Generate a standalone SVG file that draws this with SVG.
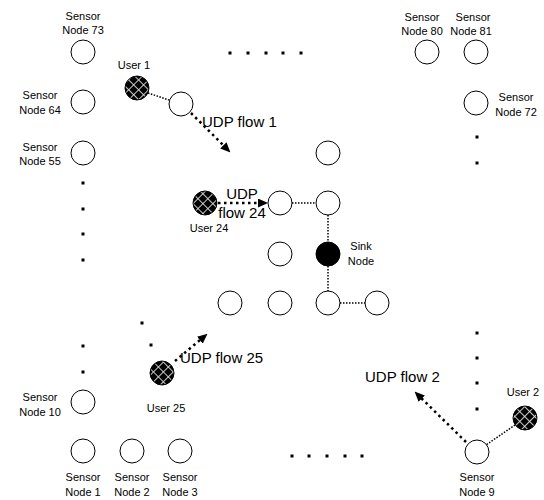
<svg xmlns="http://www.w3.org/2000/svg" width="544" height="500" viewBox="0 0 544 500">
<defs>
<pattern id="mesh" patternUnits="userSpaceOnUse" width="7" height="7" patternTransform="rotate(45)">
<rect width="7" height="7" fill="#000"/>
<path d="M0 0.5H7M0.5 0V7" stroke="#e0e0e0" stroke-width="0.9"/>
</pattern>
<marker id="ah2" markerWidth="10" markerHeight="9" refX="8" refY="4.5" orient="auto" markerUnits="userSpaceOnUse">
<path d="M0 0L10 4.5L0 9Z" fill="#000"/>
</marker>
</defs>
<style>
.n{fill:#fff;stroke:#000;stroke-width:1}
.u{fill:url(#mesh);stroke:#000;stroke-width:1}
.s{fill:#000;stroke:#000}
.t{font-family:"Liberation Sans",Arial,sans-serif;font-size:11px;fill:#000;text-anchor:middle}
.f{font-family:"Liberation Sans",Arial,sans-serif;font-size:15px;fill:#000}
.thin{stroke:#000;stroke-width:1.5;stroke-dasharray:1.5 1.5;fill:none}
.flow{stroke:#000;stroke-width:2.5;stroke-dasharray:2.5 3.5;fill:none}
.d{fill:#000}
</style>
<g id="connectors">
<line class="thin" x1="148" y1="93" x2="169" y2="100"/>
<line class="thin" x1="292" y1="203" x2="316" y2="203"/>
<line class="thin" x1="328" y1="215" x2="328" y2="242"/>
<line class="thin" x1="328" y1="266" x2="328" y2="291"/>
<line class="thin" x1="340" y1="303" x2="365" y2="303"/>
<line class="thin" x1="515" y1="425" x2="486" y2="445"/>
<line class="flow" x1="191" y1="113" x2="229" y2="151" marker-end="url(#ah2)"/>
<line class="flow" x1="218" y1="203" x2="266" y2="203" marker-end="url(#ah2)"/>
<line class="flow" x1="175" y1="361" x2="206" y2="335" marker-end="url(#ah2)"/>
<line class="flow" x1="466" y1="442" x2="416" y2="393" marker-end="url(#ah2)"/>
</g>
<g id="dots">
<rect class="d" x="228.5" y="51.5" width="3" height="3"/>
<rect class="d" x="246.5" y="51.5" width="3" height="3"/>
<rect class="d" x="264.5" y="51.5" width="3" height="3"/>
<rect class="d" x="281.5" y="51.5" width="3" height="3"/>
<rect class="d" x="299.5" y="51.5" width="3" height="3"/>
<rect class="d" x="81.5" y="181.5" width="3" height="3"/>
<rect class="d" x="81.5" y="207.5" width="3" height="3"/>
<rect class="d" x="81.5" y="232.5" width="3" height="3"/>
<rect class="d" x="81.5" y="258.5" width="3" height="3"/>
<rect class="d" x="81.5" y="344.5" width="3" height="3"/>
<rect class="d" x="81.5" y="370.5" width="3" height="3"/>
<rect class="d" x="140.5" y="321.5" width="3" height="3"/>
<rect class="d" x="149.5" y="343.5" width="3" height="3"/>
<rect class="d" x="475.5" y="135.5" width="3" height="3"/>
<rect class="d" x="475.5" y="161.5" width="3" height="3"/>
<rect class="d" x="475.5" y="331.5" width="3" height="3"/>
<rect class="d" x="475.5" y="356.5" width="3" height="3"/>
<rect class="d" x="475.5" y="381.5" width="3" height="3"/>
<rect class="d" x="475.5" y="407.5" width="3" height="3"/>
<rect class="d" x="290.5" y="454.5" width="3" height="3"/>
<rect class="d" x="307.5" y="454.5" width="3" height="3"/>
<rect class="d" x="325.5" y="454.5" width="3" height="3"/>
<rect class="d" x="343.5" y="454.5" width="3" height="3"/>
<rect class="d" x="360.5" y="454.5" width="3" height="3"/>
</g>
<g id="node73"><circle class="n" cx="83" cy="52" r="12"/><text class="t" x="83" y="20">Sensor</text><text class="t" x="83" y="34">Node 73</text></g>
<g id="node64"><circle class="n" cx="83" cy="102" r="12"/><text class="t" x="40" y="99">Sensor</text><text class="t" x="40" y="114">Node 64</text></g>
<g id="node55"><circle class="n" cx="83" cy="153" r="12"/><text class="t" x="40" y="151">Sensor</text><text class="t" x="40" y="165">Node 55</text></g>
<g id="node10"><circle class="n" cx="83" cy="402" r="12"/><text class="t" x="40" y="401">Sensor</text><text class="t" x="40" y="416">Node 10</text></g>
<g id="node1"><circle class="n" cx="83" cy="451" r="12"/><text class="t" x="83" y="481">Sensor</text><text class="t" x="83" y="496">Node 1</text></g>
<g id="node2"><circle class="n" cx="132" cy="451" r="12"/><text class="t" x="132" y="481">Sensor</text><text class="t" x="132" y="496">Node 2</text></g>
<g id="node3"><circle class="n" cx="180" cy="451" r="12"/><text class="t" x="180" y="481">Sensor</text><text class="t" x="180" y="496">Node 3</text></g>
<g id="node9"><circle class="n" cx="477" cy="452" r="12"/><text class="t" x="477" y="481">Sensor</text><text class="t" x="477" y="496">Node 9</text></g>
<g id="node80"><circle class="n" cx="427" cy="52" r="12"/><text class="t" x="422" y="21">Sensor</text><text class="t" x="422" y="35">Node 80</text></g>
<g id="node81"><circle class="n" cx="476" cy="52" r="12"/><text class="t" x="473" y="21">Sensor</text><text class="t" x="471" y="35">Node 81</text></g>
<g id="node72"><circle class="n" cx="476" cy="103" r="12"/><text class="t" x="516" y="101">Sensor</text><text class="t" x="516" y="116">Node 72</text></g>
<g id="nodeA"><circle class="n" cx="181" cy="104" r="12"/></g>
<g id="nodeB"><circle class="n" cx="328" cy="153" r="12"/></g>
<g id="nodeC"><circle class="n" cx="280" cy="203" r="12"/></g>
<g id="nodeD"><circle class="n" cx="328" cy="203" r="12"/></g>
<g id="nodeE"><circle class="n" cx="280" cy="254" r="12"/></g>
<g id="sink"><circle class="s" cx="328" cy="254" r="12"/><text class="t" x="361" y="250">Sink</text><text class="t" x="361" y="265">Node</text></g>
<g id="nodeF"><circle class="n" cx="230" cy="303" r="12"/></g>
<g id="nodeG"><circle class="n" cx="280" cy="303" r="12"/></g>
<g id="nodeH"><circle class="n" cx="328" cy="303" r="12"/></g>
<g id="nodeI"><circle class="n" cx="377" cy="303" r="12"/></g>
<g id="user1"><circle class="u" cx="137" cy="88" r="12"/><text class="t" x="134" y="69">User 1</text></g>
<g id="user24"><circle class="u" cx="205" cy="203" r="12"/><text class="t" x="209" y="232">User 24</text></g>
<g id="user25"><circle class="u" cx="162" cy="373" r="12"/><text class="t" x="166" y="412">User 25</text></g>
<g id="user2"><circle class="u" cx="525" cy="418" r="12"/><text class="t" x="523" y="396">User 2</text></g>
<g id="flowlabels">
<text class="f" x="202" y="127">UDP flow 1</text>
<text class="f" x="242" y="199" text-anchor="middle">UDP</text>
<text class="f" x="242" y="218" text-anchor="middle">flow 24</text>
<text class="f" x="180" y="363">UDP flow 25</text>
<text class="f" x="365" y="382">UDP flow 2</text>
</g>
</svg>
